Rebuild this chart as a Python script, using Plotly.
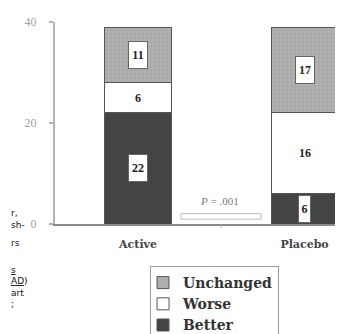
import plotly.graph_objects as go

# ---- data ----
categories = ["Active", "Placebo"]
better = [22, 6]
worse = [6, 16]
unchanged = [11, 17]
series_names = ["Better", "Worse", "Unchanged"]
y_ticks = [0, 20, 40]
p_text = "<i>P</i> = .001"
margin_fragments = ["r,<br>sh-", "rs", "<u>s</u>", "<u>AD</u>)<br>art<br>;"]

# ---- figure ----
x_pos = list(range(len(categories)))
fig = go.Figure()

line_col = "#555555"
fig.add_trace(go.Bar(x=x_pos, y=better, name=series_names[0],
                     marker=dict(color="#444444", line=dict(color=line_col, width=1))))
fig.add_trace(go.Bar(x=x_pos, y=worse, name=series_names[1],
                     marker=dict(color="#ffffff", line=dict(color=line_col, width=1))))
fig.add_trace(go.Bar(x=x_pos, y=unchanged, name=series_names[2],
                     marker=dict(color="#acacac", line=dict(color=line_col, width=1),
                                 pattern=dict(shape="+", fgcolor="#cacaca",
                                              bgcolor="#a9a9a9", size=4, solidity=0.3))))

# value labels (boxed on dark / patterned segments)
stacks = [better, worse, unchanged]
boxed = [True, False, True]
for i, xi in enumerate(x_pos):
    base = 0
    for s, vals in enumerate(stacks):
        v = vals[i]
        mid = base + v / 2
        base += v
        ann = dict(x=xi, y=mid, xref="x", yref="y", text=f"<b>{v}</b>",
                   showarrow=False,
                   font=dict(family="Liberation Serif", size=12, color="#222222"))
        if boxed[s]:
            ann.update(bgcolor="#ffffff", bordercolor="#666666", borderwidth=1,
                       borderpad=2, height=22, width=14 if v >= 10 else 7)
        fig.add_annotation(**ann)

# P value with bracket
fig.add_annotation(x=0.487, y=4.6, xref="x", yref="y", text=p_text, showarrow=False,
                   font=dict(family="Liberation Serif", size=11, color="#777777"))
fig.add_shape(type="rect", xref="x", yref="y", x0=0.258, x1=0.739, y0=0.95, y1=2.05,
              line=dict(color="#bbbbbb", width=1), fillcolor="rgba(0,0,0,0)")

# small middle tick on the x axis
fig.add_shape(type="line", xref="paper", yref="paper", x0=0.561, x1=0.561,
              y0=0, y1=-0.017, line=dict(color="#999999", width=1))

# cut-off margin text from the neighbouring column (left aligned at the page edge)
frag_y = [216.5, 241, 269, 292]
for t, py in zip(margin_fragments, frag_y):
    fig.add_annotation(x=(0.5 - 47) / 296, y=(221.7 - py) / 207.7, xref="paper", yref="paper",
                       text=t, showarrow=False, xanchor="left", yanchor="middle", align="left",
                       font=dict(family="DejaVu Sans", size=9, color="#111111"))

fig.update_layout(
    width=343, height=334,
    margin=dict(l=47, r=0, t=14, b=112.3),
    paper_bgcolor="#ffffff", plot_bgcolor="#ffffff",
    barmode="stack", bargap=0.6,
    showlegend=True,
    legend=dict(x=0.321, y=-0.2085, xanchor="left", yanchor="top",
                traceorder="reversed", bordercolor="#999999", borderwidth=1,
                bgcolor="#ffffff",
                font=dict(family="DejaVu Serif", size=14, color="#333333", weight="bold"),
                itemwidth=30, indentation=-8, tracegroupgap=0),
    xaxis=dict(range=[-0.4985, 1.279], tickvals=x_pos,
               ticktext=[f"<b>{c}</b>" for c in categories],
               tickfont=dict(family="DejaVu Serif", size=11, color="#444444"),
               ticks="outside", ticklen=9, tickcolor="rgba(0,0,0,0)",
               showline=True, linecolor="#8a8a8a", linewidth=2,
               showgrid=False, zeroline=False, fixedrange=True),
    yaxis=dict(range=[0, 40], tickvals=y_ticks, ticktext=[str(v) for v in y_ticks],
               tickfont=dict(family="Liberation Serif", size=12, color="#a0a0a0"),
               ticks="outside", ticklen=4, tickcolor="#b0b0b0", tickwidth=1.5,
               ticklabelstandoff=10,
               showline=True, linecolor="#b5b5b5", linewidth=2,
               showgrid=False, zeroline=False, fixedrange=True),
)

fig.write_html("out.html")
